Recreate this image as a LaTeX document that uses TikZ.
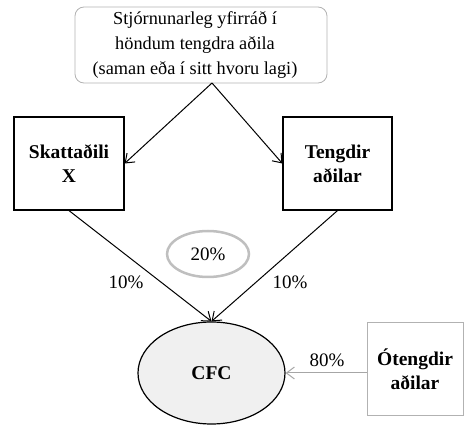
\documentclass[tikz,border=0pt]{standalone}
\usepackage{fontspec}
\setmainfont{Liberation Serif}
\usetikzlibrary{arrows.meta,shapes.geometric}
\begin{document}
\begin{tikzpicture}[x=1pt,y=-1pt,
  txt/.style={font=\fontsize{18.3}{25}\selectfont, align=center},
  boxb/.style={draw, line width=1.2pt, inner sep=0pt, align=center, font=\fontsize{19.5}{24}\selectfont\bfseries},
  arr/.style={line width=1pt, -{Straight Barb[length=8pt,width=12pt]}},
  garr/.style={draw=gray!70, line width=1pt, -{Straight Barb[length=8pt,width=12pt]}},
  lbl/.style={font=\fontsize{19}{22}\selectfont}]
\useasboundingbox (0,0) rectangle (464,425);
\node[draw=gray!60, rounded corners=9pt, line width=0.8pt, minimum width=252pt, minimum height=76pt, inner sep=0pt] (top) at (201,45) {};
\node[txt] (toptxt) at (195,45) {Stjórnunarleg yfirráð í\\höndum tengdra aðila\\(saman eða í sitt hvoru lagi)};
\node[boxb, minimum width=110pt, minimum height=93pt] (sk) at (69,163.5) {Skattaðili\\X};
\node[boxb, minimum width=109pt, minimum height=93pt] (te) at (337.5,163.5) {Tengdir\\aðilar};
\node[draw=gray!50, line width=2.5pt, ellipse, minimum width=82pt, minimum height=46pt, lbl] (pc) at (208,254) {20\%};
\node[ellipse, draw, line width=1.2pt, fill=gray!12, minimum width=147pt, minimum height=102pt, font=\fontsize{19.5}{22}\selectfont\bfseries] (cfc) at (211.5,373) {CFC};
\node[draw=gray!60, line width=1pt, minimum width=96pt, minimum height=92pt, align=center, font=\fontsize{19.5}{24}\selectfont\bfseries] (ot) at (415,369) {Ótengdir\\aðilar};
\coordinate (topb) at (212,83);
\draw[arr] (topb) -- (sk.east);
\draw[arr] (topb) -- (te.west);
\draw[arr] (sk.south) -- (cfc.north);
\draw[arr] (te.south) -- (cfc.north);
\draw[garr] (ot.west |- cfc.east) -- (cfc.east);
\node[lbl] (l1) at (126,282) {10\%};
\node[lbl] (l2) at (290,282) {10\%};
\node[lbl] (l3) at (327,360) {80\%};
\end{tikzpicture}
\end{document}
